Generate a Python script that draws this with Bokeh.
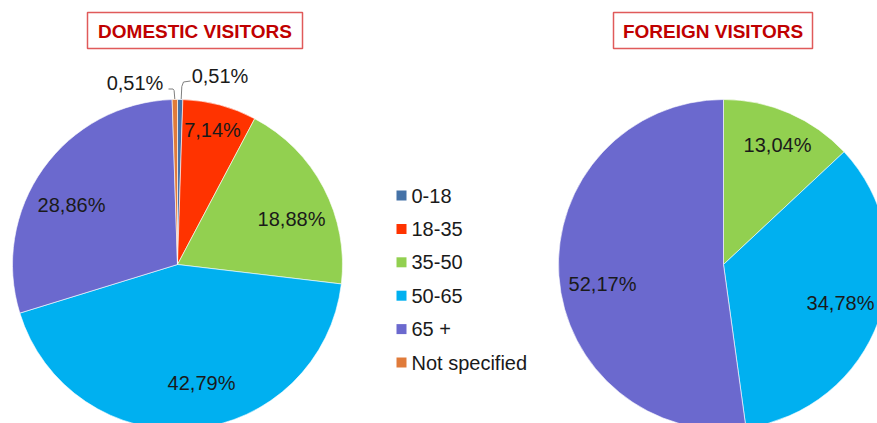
import numpy as np
from bokeh.plotting import figure
from bokeh.models import Range1d, ColumnDataSource
from bokeh.core.properties import value
from bokeh.embed import file_html
from bokeh.resources import INLINE

# ---- data ----
categories = ["0-18", "18-35", "35-50", "50-65", "65 +", "Not specified"]
colors = ["#4572A7", "#FF3300", "#92D050", "#00B0F0", "#6B69CE", "#E07B3A"]

domestic_values = [0.51, 7.14, 18.88, 42.79, 28.86, 0.51]
domestic_labels = ["0,51%", "7,14%", "18,88%", "42,79%", "28,86%", "0,51%"]

foreign_categories = ["35-50", "50-65", "65 +"]
foreign_values = [13.04, 34.78, 52.17]
foreign_labels = ["13,04%", "34,78%", "52,17%"]

titles = ["DOMESTIC VISITORS", "FOREIGN VISITORS"]

W, H = 877, 423
FONT = "Liberation Sans"

p = figure(width=W, height=H, output_backend="svg", toolbar_location=None,
           x_range=Range1d(0, W), y_range=Range1d(0, H), min_border=0,
           background_fill_color="white", border_fill_color="white")
p.axis.visible = False
p.grid.visible = False
p.outline_line_color = None


def Y(py):
    return H - py


def pie(cx, cy, r, vals, cols):
    v = np.array(vals, dtype=float)
    frac = v / v.sum()
    cum = np.concatenate([[0], np.cumsum(frac)])
    start = np.pi / 2 - cum[:-1] * 2 * np.pi
    end = np.pi / 2 - cum[1:] * 2 * np.pi
    src = ColumnDataSource(dict(x=[cx] * len(v), y=[Y(cy)] * len(v),
                                start=start, end=end, color=cols))
    p.wedge(x="x", y="y", radius=r, start_angle="start", end_angle="end",
            direction="clock", fill_color="color", line_color="white",
            line_width=0.6, source=src)


# domestic pie
pie(177, 264, 165, domestic_values, colors)
# foreign pie
fcols = [colors[categories.index(c)] for c in foreign_categories]
pie(723, 264, 165, foreign_values, fcols)

# leader lines for the tiny slices
p.line([180.7, 181.3, 183.0, 190.0], [Y(98.5), Y(86), Y(81.5), Y(80.5)], line_color="#7f7f7f", line_width=1)
p.line([174.3, 173.6, 172.5, 168.0], [Y(98.5), Y(90), Y(88.5), Y(88.5)], line_color="#7f7f7f", line_width=1)

# value labels (positions in pixels)
dom_pos = [(219.5, 75.5), (212, 129.5), (291, 218), (201, 382), (71, 204), (134.5, 82)]
p.text(x=[q[0] for q in dom_pos], y=[Y(q[1]) for q in dom_pos], text=domestic_labels,
       text_font=value(FONT), text_font_size="20px", text_color="#1a1a1a",
       text_align="center", text_baseline="middle")
for_pos = [(777, 144), (840, 302), (602, 283)]
p.text(x=[q[0] for q in for_pos], y=[Y(q[1]) for q in for_pos], text=foreign_labels,
       text_font=value(FONT), text_font_size="20px", text_color="#1a1a1a",
       text_align="center", text_baseline="middle")

# legend
leg_y = [195 + i * 33.4 for i in range(len(categories))]
p.scatter(x=[401] * len(categories), y=[Y(v) for v in leg_y], marker="square", size=10,
          fill_color=colors, line_color=None)
p.text(x=[411] * len(categories), y=[Y(v) for v in leg_y], text=categories,
       text_font=value(FONT), text_font_size="20px", text_color="#1a1a1a",
       text_align="left", text_baseline="middle")

# title boxes
boxes = [(87, 302), (613, 812)]
for (x0, x1), t in zip(boxes, titles):
    p.quad(left=x0, right=x1, top=Y(12), bottom=Y(48), fill_color="white",
           line_color="#E05A5A", line_width=1.5)
    p.text(x=[(x0 + x1) / 2], y=[Y(30.5)], text=[t], text_font=value(FONT),
           text_font_size="19px", text_font_style="bold", text_color="#C00000",
           text_align="center", text_baseline="middle")

open("out.html", "w").write(file_html(p, INLINE))
